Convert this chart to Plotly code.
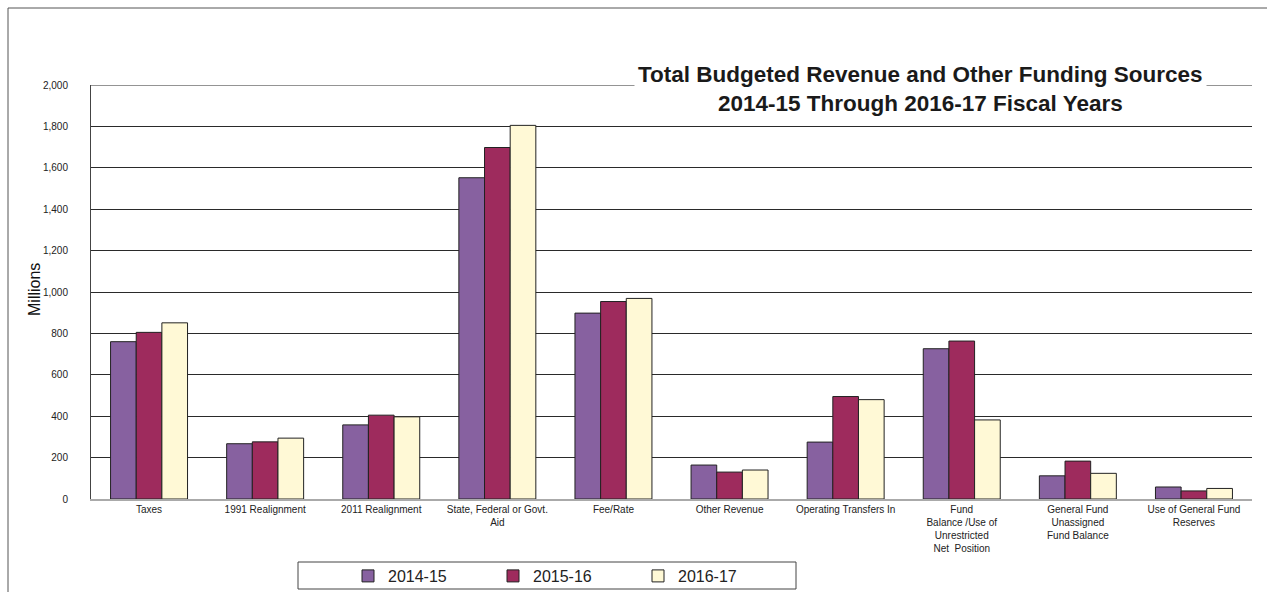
import plotly.graph_objects as go

categories = [
    "Taxes",
    "1991 Realignment",
    "2011 Realignment",
    "State, Federal or Govt.<br>Aid",
    "Fee/Rate",
    "Other Revenue",
    "Operating Transfers In",
    "Fund<br>Balance /Use of<br>Unrestricted<br>Net  Position",
    "General Fund<br>Unassigned<br>Fund Balance",
    "Use of General Fund<br>Reserves",
]
series_names = ["2014-15", "2015-16", "2016-17"]
values_2014_15 = [760, 267, 358, 1552, 898, 164, 275, 726, 112, 58]
values_2015_16 = [805, 276, 405, 1698, 954, 130, 495, 763, 183, 39]
values_2016_17 = [851, 294, 397, 1805, 969, 140, 480, 382, 124, 51]
tick_values = [0, 200, 400, 600, 800, 1000, 1200, 1400, 1600, 1800, 2000]
tick_labels = ["0", "200", "400", "600", "800", "1,000", "1,200", "1,400", "1,600", "1,800", "2,000"]
y_max = 2000

colors = ["#8761A0", "#9E2B5D", "#FFF9D6"]
FONT = "Liberation Sans, Arial, sans-serif"

fig = go.Figure()
for name, vals, col in zip(series_names, [values_2014_15, values_2015_16, values_2016_17], colors):
    fig.add_trace(go.Bar(
        x=categories, y=vals, name=name,
        marker=dict(color=col, line=dict(color="#222222", width=1)),
    ))

W, H = 1267, 592
L, R, T, B = 91, 15, 85, 93
pw = W - L - R
ph = H - T - B

def px(x):
    return (x - L) / pw

def py(y):
    return (H - B - y) / ph

fig.update_layout(
    width=W, height=H,
    margin=dict(l=L, r=R, t=T, b=B, autoexpand=False),
    paper_bgcolor="white", plot_bgcolor="white",
    barmode="group", bargap=0.337, bargroupgap=0,
    font=dict(family=FONT, color="#222222"),
    showlegend=True,
    legend=dict(
        orientation="h", x=px(348), xanchor="left", y=py(576), yanchor="middle",
        font=dict(size=16, color="#222222", family=FONT),
        bgcolor="rgba(0,0,0,0)", borderwidth=0,
        entrywidth=100, entrywidthmode="pixels",
        itemclick=False,
    ),
    xaxis=dict(
        showgrid=False, showline=True, linecolor="#AAAAAA", linewidth=1.5,
        ticks="", tickfont=dict(size=10, color="#222222"), tickangle=0,
        fixedrange=True,
    ),
    yaxis=dict(
        range=[0, y_max], tickvals=tick_values, ticktext=tick_labels,
        showgrid=True, gridcolor="#2A2A2A", gridwidth=1,
        showline=True, linecolor="#444444", linewidth=1,
        zeroline=False, ticks="", ticklabelstandoff=20,
        tickfont=dict(size=10, color="#222222"),
        fixedrange=True,
    ),
    shapes=[
        dict(type="rect", xref="paper", yref="paper",
             x0=px(8), x1=px(1275), y0=py(8), y1=py(610),
             line=dict(color="#555555", width=1), fillcolor="rgba(0,0,0,0)", layer="below"),
        dict(type="line", xref="paper", yref="y",
             x0=0, x1=1, y0=y_max, y1=y_max,
             line=dict(color="#2A2A2A", width=1), layer="below"),
        dict(type="rect", xref="paper", yref="paper",
             x0=px(298), x1=px(796), y0=py(562), y1=py(589),
             line=dict(color="#444444", width=1), fillcolor="rgba(0,0,0,0)"),
    ],
    annotations=[
        dict(text="Total Budgeted Revenue and Other Funding Sources<br>2014-15 Through 2016-17 Fiscal Years",
             xref="paper", yref="paper", x=px(921), y=py(89), xanchor="center", yanchor="middle",
             showarrow=False, bgcolor="white", borderpad=3,
             font=dict(size=22.5, color="#1A1A1A", family=FONT, weight="bold"),
             align="center"),
        dict(text="Millions", xref="paper", yref="paper", x=px(34), y=py(290),
             xanchor="center", yanchor="middle", textangle=-90, showarrow=False,
             font=dict(size=16, color="#111111", family=FONT)),
    ],
)

fig.write_html(
    "out.html",
    config={"displayModeBar": False},
    post_script="document.body.style.margin='0';document.body.style.overflow='hidden';",
)
